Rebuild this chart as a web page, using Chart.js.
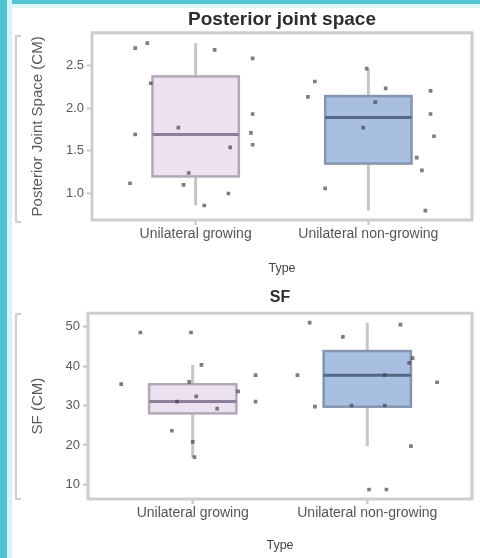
<!DOCTYPE html>
<html>
<head>
<meta charset="utf-8">
<script src="https://cdn.jsdelivr.net/npm/chart.js@4.4.1/dist/chart.umd.min.js"></script>
<style>
  body { margin: 0; width: 480px; height: 558px; background: #fff; position: relative; overflow: hidden; font-family: "Liberation Sans", Arial, sans-serif; }
  .strip-left { position: absolute; left: 0; top: 0; width: 7px; height: 558px; background: #4fc3d3; }
  .strip-left2 { position: absolute; left: 7px; top: 0; width: 5px; height: 558px; background: #d4f3f7; }
  .strip-top { position: absolute; left: 0; top: 0; width: 480px; height: 4px; background: #55c5d5; }
  .strip-top2 { position: absolute; left: 0; top: 4px; width: 480px; height: 4px; background: #dcf6fa; }
  .bracket { position: absolute; left: 15px; width: 4px; border: 2px solid #cdcdcd; border-right: none; }
  canvas { position: absolute; left: 0; }
</style>
</head>
<body>
<div class="strip-top2"></div>
<div class="strip-top"></div>
<div class="strip-left2"></div>
<div class="strip-left"></div>
<div class="bracket" style="top:35px;height:184px"></div>
<div class="bracket" style="top:313px;height:183px"></div>
<div style="position:absolute;left:0;top:0;width:480px;height:280px"><canvas id="pjsChart"></canvas></div>
<div style="position:absolute;left:0;top:280px;width:480px;height:278px"><canvas id="sfChart"></canvas></div>
<script>
// categories
const categories = ['Unilateral growing', 'Unilateral non-growing'];

// Posterior joint space: raw points (value + horizontal jitter)
const pjsGrowing = [2.70, 2.76, 2.68, 2.58, 2.29, 1.93, 1.69, 1.77, 1.71, 1.57, 1.54, 1.24, 1.12, 1.10, 1.00, 0.86];
const pjsGrowingJitter = [-0.35, -0.28, 0.11, 0.33, -0.26, 0.33, -0.35, -0.10, 0.32, 0.33, 0.20, -0.04, -0.38, -0.07, 0.19, 0.05];
const pjsNonGrowing = [2.46, 2.31, 2.13, 2.23, 2.07, 2.20, 1.93, 1.67, 1.77, 1.42, 1.27, 1.06, 0.80];
const pjsNonGrowingJitter = [-0.01, -0.31, -0.35, 0.10, 0.04, 0.36, 0.36, 0.38, -0.03, 0.28, 0.31, -0.25, 0.33];
// box stats: [whisker low, Q1, median, Q3, whisker high]
const pjsStatsGrowing = [0.86, 1.20, 1.69, 2.37, 2.76];
const pjsStatsNonGrowing = [0.80, 1.35, 1.89, 2.14, 2.46];
const pjsTicks = [1.0, 1.5, 2.0, 2.5];

// SF
const sfGrowing = [48.5, 48.5, 40.3, 35.4, 36.0, 33.6, 37.7, 31.0, 31.0, 32.3, 29.2, 23.6, 20.8, 16.9];
const sfGrowingJitter = [-0.30, -0.01, 0.05, -0.41, -0.02, 0.26, 0.36, 0.36, -0.09, 0.02, 0.14, -0.12, 0.00, 0.01];
const sfNonGrowing = [51.0, 47.4, 50.5, 37.7, 42.0, 40.8, 37.7, 35.9, 29.7, 30.0, 30.0, 19.7, 8.7, 8.7];
const sfNonGrowingJitter = [-0.33, -0.14, 0.19, -0.40, 0.26, 0.24, 0.10, 0.40, -0.30, -0.09, 0.10, 0.25, 0.01, 0.11];
const sfStatsGrowing = [16.9, 28.0, 31.0, 35.4, 40.3];
const sfStatsNonGrowing = [19.7, 29.7, 37.7, 43.8, 51.0];
const sfTicks = [10, 20, 30, 40, 50];

const boxColors = [
    { fill: '#ece1f0', border: '#b3a7b8', median: '#8b7f99' },
    { fill: '#a9bfe1', border: '#8595b0', median: '#566888' }
];

// draws the boxplots through the chart scales
const boxPlugin = {
    id: 'boxes',
    beforeDatasetsDraw(chart, args, opts) {
        const { ctx, scales: { x, y } } = chart;
        opts.stats.forEach((s, i) => {
            const c = boxColors[i];
            const left = x.getPixelForValue(i - 0.25);
            const right = x.getPixelForValue(i + 0.25);
            const cx = x.getPixelForValue(i);
            const q1 = y.getPixelForValue(s[1]);
            const q3 = y.getPixelForValue(s[3]);
            ctx.save();
            ctx.strokeStyle = '#c6c6c6';
            ctx.lineWidth = 3;
            ctx.beginPath();
            ctx.moveTo(cx, y.getPixelForValue(s[0]));
            ctx.lineTo(cx, q1);
            ctx.moveTo(cx, q3);
            ctx.lineTo(cx, y.getPixelForValue(s[4]));
            ctx.stroke();
            ctx.fillStyle = c.fill;
            ctx.fillRect(left, q3, right - left, q1 - q3);
            ctx.strokeStyle = c.border;
            ctx.lineWidth = 2.5;
            ctx.strokeRect(left, q3, right - left, q1 - q3);
            ctx.strokeStyle = c.median;
            ctx.lineWidth = 3;
            ctx.beginPath();
            const m = y.getPixelForValue(s[2]);
            ctx.moveTo(left, m);
            ctx.lineTo(right, m);
            ctx.stroke();
            ctx.restore();
        });
    },
    afterDraw(chart) {
        const { ctx, chartArea: a } = chart;
        ctx.save();
        ctx.strokeStyle = '#cdcdcd';
        ctx.lineWidth = 3;
        ctx.strokeRect(a.left, a.top, a.right - a.left, a.bottom - a.top);
        ctx.restore();
    }
};

function pointsOf(values, jitter, group) {
    return values.map((v, i) => ({ x: group + jitter[i], y: v }));
}

function makeChart(id, cfg) {
    return new Chart(document.getElementById(id), {
        type: 'scatter',
        data: {
            datasets: [
                { data: pointsOf(cfg.g1, cfg.j1, 0) },
                { data: pointsOf(cfg.g2, cfg.j2, 1) }
            ]
        },
        options: {
            responsive: true,
            maintainAspectRatio: false,
            animation: false,
            layout: { padding: { left: 24, right: 8, top: 0, bottom: 0 } },
            elements: {
                point: { pointStyle: 'rect', radius: 2.6, backgroundColor: 'rgba(70,70,70,0.7)', borderWidth: 0 }
            },
            plugins: {
                legend: { display: false },
                tooltip: { enabled: false },
                title: {
                    display: true,
                    text: cfg.title,
                    fullSize: false,
                    color: '#2e2e2e',
                    font: { size: cfg.titleSize, weight: 'bold', family: '"Liberation Sans", Arial' },
                    padding: cfg.titlePad
                },
                boxes: { stats: cfg.stats }
            },
            scales: {
                x: {
                    type: 'linear',
                    min: -0.6,
                    max: 1.6,
                    afterBuildTicks: s => { s.ticks = categories.map((c, i) => ({ value: i })); },
                    afterFit: s => { s.height = cfg.xHeight; },
                    grid: { drawOnChartArea: false, tickLength: 5, color: '#c4c4c4', tickWidth: 2 },
                    border: { display: false },
                    ticks: {
                        callback: v => categories[v],
                        color: '#555',
                        padding: 1,
                        maxRotation: 0,
                        font: { size: 14, family: '"Liberation Sans", Arial' }
                    },
                    title: {
                        display: true,
                        text: 'Type',
                        color: '#444',
                        font: { size: 12.5, family: '"Liberation Sans", Arial' },
                        padding: { top: 0, bottom: cfg.typePad }
                    }
                },
                y: {
                    min: cfg.yMin,
                    max: cfg.yMax,
                    afterBuildTicks: s => { s.ticks = cfg.ticks.map(v => ({ value: v })); },
                    afterFit: s => { s.width = cfg.yWidth; },
                    grid: { drawOnChartArea: false, tickLength: 5, color: '#c4c4c4', tickWidth: 2 },
                    border: { display: false },
                    ticks: {
                        callback: v => cfg.tickFmt(v),
                        color: '#5a5a5a',
                        padding: 3,
                        font: { size: 13, family: '"Liberation Sans", Arial' }
                    },
                    title: {
                        display: true,
                        text: cfg.yTitle,
                        color: '#5a5a5a',
                        font: { size: 15, family: '"Liberation Sans", Arial' },
                        padding: { top: 5, bottom: 0 }
                    }
                }
            }
        },
        plugins: [boxPlugin]
    });
}

makeChart('pjsChart', {
    title: 'Posterior joint space',
    titleSize: 19,
    titlePad: { top: 8, bottom: 2 },
    g1: pjsGrowing, j1: pjsGrowingJitter,
    g2: pjsNonGrowing, j2: pjsNonGrowingJitter,
    stats: [pjsStatsGrowing, pjsStatsNonGrowing],
    ticks: pjsTicks,
    tickFmt: v => v.toFixed(1),
    yMin: 0.69, yMax: 2.88,
    yTitle: 'Posterior Joint Space (CM)',
    yWidth: 68,
    xHeight: 60,
    typePad: 4
});

makeChart('sfChart', {
    title: 'SF',
    titleSize: 16,
    titlePad: { top: 8, bottom: 6 },
    g1: sfGrowing, j1: sfGrowingJitter,
    g2: sfNonGrowing, j2: sfNonGrowingJitter,
    stats: [sfStatsGrowing, sfStatsNonGrowing],
    ticks: sfTicks,
    tickFmt: v => String(v),
    yMin: 6.3, yMax: 53.4,
    yTitle: 'SF (CM)',
    yWidth: 64,
    xHeight: 59,
    typePad: 5
});
</script>
</body>
</html>
